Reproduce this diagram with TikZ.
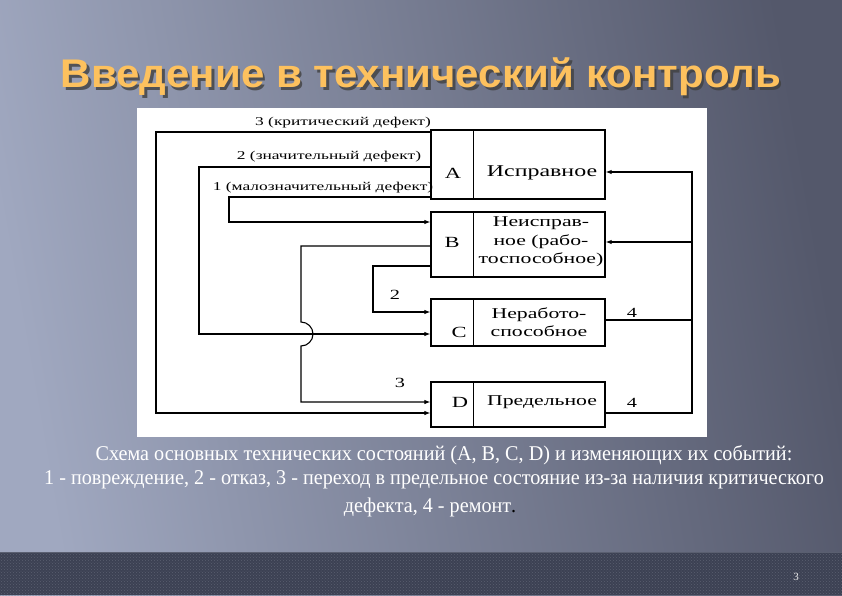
\documentclass[tikz,border=0pt]{standalone}
\usepackage{fontspec}
\setmainfont{Liberation Serif}
\newfontfamily\titlefont[FakeStretch=1.05]{Liberation Sans}
\newfontfamily\dfont[FakeStretch=1.45]{Liberation Serif}
\newfontfamily\capfont[FakeStretch=0.96]{Liberation Serif}
\usetikzlibrary{arrows.meta,patterns,calc}
\definecolor{titleor}{HTML}{FDC15E}
\definecolor{bgL}{HTML}{A0A8C0}
\definecolor{bgR}{HTML}{54586B}
\definecolor{band}{HTML}{3C4153}
\definecolor{bandline}{HTML}{5A5F70}
\tikzset{
  statebox/.style={draw, line width=1.3pt, minimum width=174pt, inner sep=0pt, rectangle},
  lettr/.style={font=\dfont\fontsize{15.5}{15.5}\selectfont, inner sep=0pt},
  stxt/.style={font=\dfont\fontsize{15}{18.5}\selectfont, inner sep=0pt, align=center},
  elbl/.style={font=\dfont\fontsize{12}{12}\selectfont, inner sep=0pt},
  num/.style={font=\dfont\fontsize{14}{14}\selectfont, inner sep=0pt},
  ln/.style={line width=1.1pt},
  arr/.style={ln, -{Latex[length=6pt,width=4.5pt]}},
  capt/.style={font=\capfont\fontsize{21}{21}\selectfont, text=white, inner sep=0pt},
  ttl/.style={font=\titlefont\bfseries\fontsize{40}{40}\selectfont},
}
\begin{document}
\begin{tikzpicture}[x=1pt,y=-1pt]
\useasboundingbox (0,0) rectangle (842,595);
% background
\shade[left color=bgL, right color=bgR, shading angle=100] (0,0) rectangle (842,595);
\fill[band] (0,552) rectangle (842,595);
\fill[pattern=crosshatch dots, pattern color=bandline] (0,552) rectangle (842,595);
\draw[bandline, line width=1pt] (0,552) -- (842,552);
% title with shadow
\node[ttl, text=black!75, opacity=0.8] (titleshadow) at (423.5,79.5) {Введение в технический контроль};
\node[ttl, text=titleor] (title) at (421,77) {Введение в технический контроль};
% white panel
\fill[white] (137,108) rectangle (707,437);
% state boxes
\node[statebox, minimum height=69pt] (A) at (518,164.5) {};
\node[statebox, minimum height=65pt] (B) at (518,244.5) {};
\node[statebox, minimum height=47pt] (C) at (518,322.5) {};
\node[statebox, minimum height=45pt] (D) at (518,404.5) {};
\foreach \n in {A,B,C,D}{
  \draw[line width=1.2pt] ([xshift=43pt]\n.north west) -- ([xshift=43pt]\n.south west);
}
\node[lettr] (Al) at (453,173) {A};
\node[stxt, font=\dfont\fontsize{16.5}{16.5}\selectfont] (At) at (542,173) {Исправное};
\node[lettr] (Bl) at (452,242) {B};
\node[stxt] (Bt) at (541,242) {Неисправ-\\ное (рабо-\\тоспособное)};
\node[lettr] (Cl) at (459,332) {C};
\node[stxt] (Ct) at (539,322) {Неработо-\\способное};
\node[lettr] (Dl) at (460,402) {D};
\node[stxt] (Dt) at (542,402) {Предельное};
% left connectors
\draw[arr] (A.west |- 0,132) -- (156,132) |- (D.west |- 0,413);
\draw[arr] (A.west |- 0,167) -- (199,167) |- (C.west |- 0,334);
\draw[arr] (A.west |- 0,197) -- (229,197) |- (B.west |- 0,222);
\draw[arr] (B.west |- 0,246) -- (301,246) -- (301,322) arc[start angle=-90, end angle=90, radius=12] -- (301,402) -- (D.west |- 0,402);
\draw[arr] (B.west |- 0,266) -- (373,266) |- (C.west |- 0,312);
% right connectors
\draw[arr] (D.east |- 0,413) -- (692,413) |- (A.east |- 0,172);
\draw[ln] (C.east |- 0,320) -- (692,320);
\draw[arr] (692,242) -- (B.east |- 0,242);
% labels
\node[elbl] (l3) at (343,123) {3 (критический дефект)};
\node[elbl] (l2) at (329,157) {2 (значительный дефект)};
\node[elbl] (l1) at (323,188) {1 (малозначительный дефект)};
\node[num] (n2) at (395,295) {2};
\node[num] (n3) at (400,383) {3};
\node[num] (n4a) at (632,313) {4};
\node[num] (n4b) at (632,403) {4};
% caption
\node[capt] (c1) at (444,455) {Схема основных технических состояний (A, B, C, D) и изменяющих их событий:};
\node[capt] (c2) at (434,480) {1 - повреждение, 2 - отказ, 3 - переход в предельное состояние из-за наличия критического};
\node[capt] (c3) at (430,507) {дефекта, 4 - ремонт\textcolor{black}{.}};
\node[font=\fontsize{11}{11}\selectfont, text=white!85!gray] (pg) at (796,577) {3};
\end{tikzpicture}
\end{document}
